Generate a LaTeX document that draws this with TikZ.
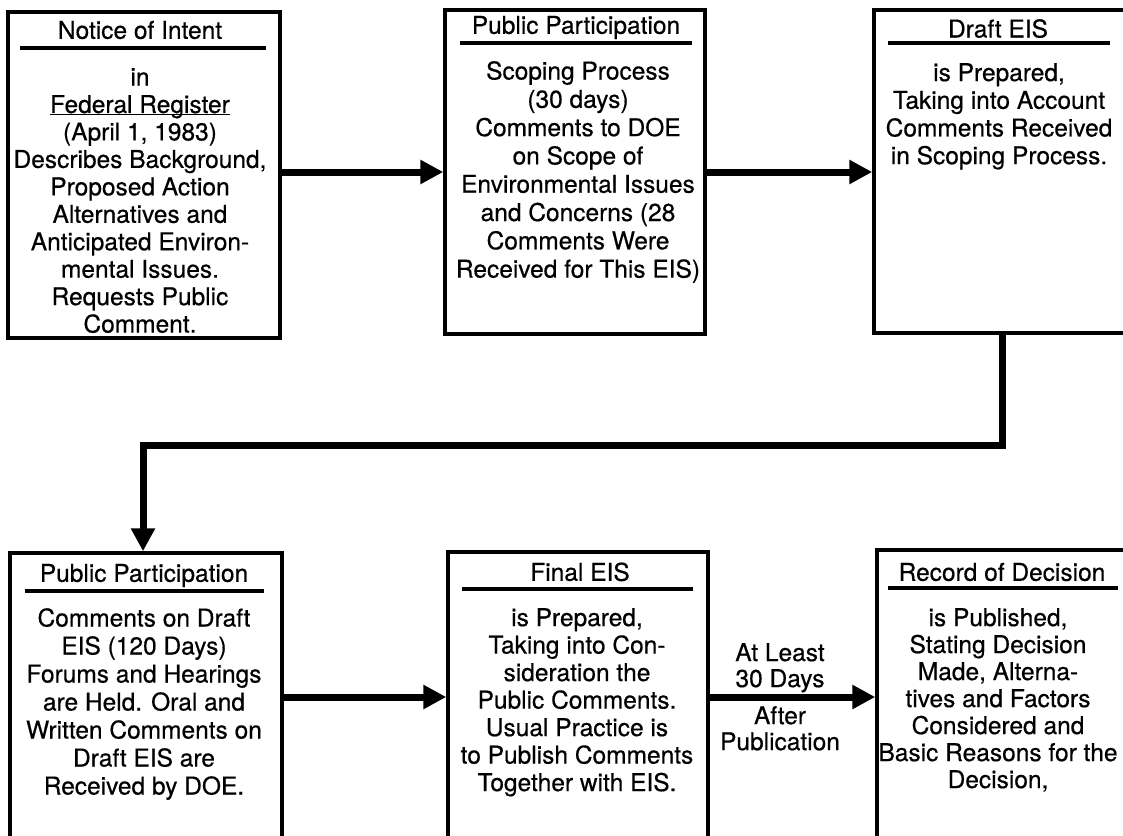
\documentclass[tikz,border=0pt]{standalone}
\usepackage{fontspec}
\setmainfont{TeX Gyre Heros}[FakeBold=0.5]
\usetikzlibrary{arrows.meta}
\newcommand\myul[1]{\setbox0\hbox{#1}\rlap{\rule[-2.5pt]{\wd0}{1.8pt}}\box0}
\begin{document}
\begin{tikzpicture}[x=1pt,y=-1pt,
  box/.style={draw, line width=3.5pt, rectangle, inner sep=0pt},
  ttl/.style={font=\fontsize{24.5}{28}\selectfont, inner sep=0pt, anchor=base},
  body/.style={font=\fontsize{24.5}{#1}\selectfont, align=center, inner sep=0pt, anchor=north},
  uline/.style={line width=3.5pt},
  arr/.style={line width=7pt, -{Triangle[length=23pt,width=23pt]}}
]
\useasboundingbox (0,0) rectangle (1123,835);

% boxes
\node[box, minimum width=272pt, minimum height=326pt] (b1) at (144,175) {};
\node[box, minimum width=260pt, minimum height=324pt] (b2) at (575,172) {};
\node[box, minimum width=256pt, minimum height=323pt] (b3) at (1002,171.5) {};
\node[box, minimum width=272pt, minimum height=292pt] (b4) at (146,699) {};
\node[box, minimum width=260pt, minimum height=293pt] (b5) at (578,698.5) {};
\node[box, minimum width=258pt, minimum height=295pt] (b6) at (1006,697.5) {};

% titles and underlines
\node[ttl] (t1) at (140,38.8) {Notice of Intent};
\draw[uline] (20,48) -- (266,48);
\node[ttl] (t2) at (576,33.8) {Public Participation};
\draw[uline] (460,43) -- (692,43);
\node[ttl] (t3) at (998,37.5) {Draft EIS};
\draw[uline] (888,43) -- (1110,43);
\node[ttl] (t4) at (144,581.8) {Public Participation};
\draw[uline] (25,591) -- (264,591);
\node[ttl] (t5) at (580,580.8) {Final EIS};
\draw[uline] (462,589) -- (693,589);
\node[ttl] (t6) at (1002,580.8) {Record of Decision};
\draw[uline] (888,588) -- (1118,588);

% bodies
\node[body=27.45] (x1) at (140,68) {in\\\myul{Federal Register}\\(April 1, 1983)\\Describes Background,\\Proposed Action\\Alternatives and\\Anticipated Environ-\\mental Issues.\\Requests Public\\Comment.};
\node[body=28.3] (x2) at (578,61) {Scoping Process\\(30 days)\\Comments to DOE\\on Scope of\\Environmental Issues\\and Concerns (28\\Comments Were\\Received for This EIS)};
\node[body=27.7] (x3) at (999,63) {is Prepared,\\Taking into Account\\Comments Received\\in Scoping Process.};
\node[body=28] (x4) at (144,608) {Comments on Draft\\EIS (120 Days)\\Forums and Hearings\\are Held. Oral and\\Written Comments on\\Draft EIS are\\Received by DOE.};
\node[body=27.5] (x5) at (577,608) {is Prepared,\\Taking into Con-\\sideration the\\Public Comments.\\Usual Practice is\\to Publish Comments\\Together with EIS.};
\node[body=27] (x6) at (998,608) {is Published,\\Stating Decision\\Made, Alterna-\\tives and Factors\\Considered and\\Basic Reasons for the\\Decision,};

% connectors
\coordinate (r1) at (0,172);
\coordinate (r2) at (0,697);
\coordinate (k1) at (1002,445);
\coordinate (k2) at (143,445);
\draw[arr] (b1.east |- r1) -- (b2.west |- r1);
\draw[arr] (b2.east |- r1) -- (b3.west |- r1);
\draw[arr] (b3.south -| k1) -- (k1) -- (k2) -- (b4.north -| k2);
\draw[arr] (b4.east |- r2) -- (b5.west |- r2);
\draw[arr] (b5.east |- r2) -- (b6.west |- r2);

% arrow labels
\node[body=26] (lab1) at (780,643) {At Least\\30 Days};
\node[body=26] (lab2) at (780,706) {After\\Publication};
\end{tikzpicture}
\end{document}
